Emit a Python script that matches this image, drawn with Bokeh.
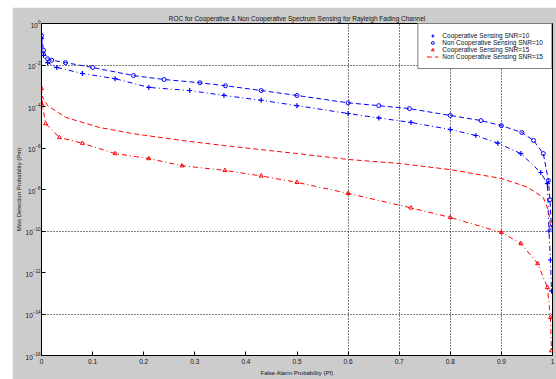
from bokeh.plotting import figure
from bokeh.models import FixedTicker, Range1d, Legend, LegendItem
from bokeh.embed import file_html
from bokeh.resources import INLINE

TITLE = "ROC for Cooperative & Non Cooperative Spectrum Sensing for Rayleigh Fading Channel"
XLABEL = "False Alarm Probability (Pf)"
YLABEL = "Miss Detection Probability (Pm)"

x_ticks = [0, 0.1, 0.2, 0.3, 0.4, 0.5, 0.6, 0.7, 0.8, 0.9, 1]
x_tick_labels = ["0", "0.1", "0.2", "0.3", "0.4", "0.5", "0.6", "0.7", "0.8", "0.9", "1"]
y_ticks = [1e0, 1e-2, 1e-4, 1e-6, 1e-8, 1e-10, 1e-12, 1e-14, 1e-16]
x_grid = [0.6, 0.7, 0.8, 0.9]
y_grid = [1e-2, 1e-10, 1e-14]

# Cooperative Sensing SNR=10 (blue, lower)
pf_c10 = [0, 0.004, 0.012, 0.03, 0.08, 0.144, 0.21, 0.29, 0.357, 0.43, 0.5, 0.6, 0.66,
          0.723, 0.8, 0.85, 0.893, 0.938, 0.977, 0.99, 0.993, 0.996, 0.998]
pm_c10 = [1.9e-1, 2.9e-2, 1.3e-2, 7.6e-3, 3.9e-3, 2.2e-3, 8.3e-4, 5.9e-4, 3.4e-4, 2.0e-4,
          1.1e-4, 4.6e-5, 2.8e-5, 1.7e-5, 7.8e-6, 4.0e-6, 1.7e-6, 5.4e-7, 6.6e-8, 1.9e-8,
          1.0e-10, 4.0e-12, 1.3e-13]

# Non Cooperative Sensing SNR=10 (blue, upper)
pf_nc10 = [0, 0.004, 0.012, 0.02, 0.047, 0.1, 0.18, 0.24, 0.31, 0.36, 0.43, 0.5, 0.6, 0.66,
           0.72, 0.8, 0.86, 0.9, 0.94, 0.963, 0.982, 0.992, 0.995, 0.998]
pm_nc10 = [2.6e-1, 5.0e-2, 2.0e-2, 1.7e-2, 1.3e-2, 7.6e-3, 3.1e-3, 2.0e-3, 1.4e-3, 1.0e-3,
           5.9e-4, 3.4e-4, 1.5e-4, 1.1e-4, 7.9e-5, 3.7e-5, 2.1e-5, 1.2e-5, 5.6e-6, 2.3e-6,
           5.4e-7, 2.7e-8, 3.2e-9, 1.5e-10]

# Cooperative Sensing SNR=15 (red, lower, triangles)
pf_c15 = [0, 0.002, 0.008, 0.035, 0.08, 0.144, 0.21, 0.275, 0.359, 0.43, 0.5, 0.6, 0.723,
          0.8, 0.9, 0.938, 0.971, 0.99, 0.996, 0.998]
pm_c15 = [7.4e-4, 1.1e-4, 1.5e-5, 3.2e-6, 1.7e-6, 5.4e-7, 3.1e-7, 1.4e-7, 8.3e-8, 4.5e-8,
          2.2e-8, 6.5e-9, 1.3e-9, 4.5e-10, 8.5e-11, 2.5e-11, 2.7e-12, 1.9e-13, 6.8e-15, 1.7e-16]

# Non Cooperative Sensing SNR=15 (red, upper, dashed)
pf_nc15 = [0, 0.012, 0.047, 0.113, 0.177, 0.275, 0.359, 0.43, 0.5, 0.6, 0.7, 0.8, 0.9,
           0.951, 0.982, 0.992, 0.996]
pm_nc15 = [3.4e-4, 1.1e-4, 3.0e-5, 9.8e-6, 5.0e-6, 2.3e-6, 1.3e-6, 8.3e-7, 5.4e-7, 2.8e-7,
           1.8e-7, 9.1e-8, 3.4e-8, 1.3e-8, 4.1e-9, 9.8e-10, 1.9e-10]

labels = ["Cooperative Sensing SNR=10", "Non Cooperative Sensing SNR=10",
          "Cooperative Sensing SNR=15", "Non Cooperative Sensing SNR=15"]

FONT = "Liberation Sans"

p = figure(width=544, height=372, x_range=Range1d(0, 1), y_range=Range1d(1e-16, 1),
           y_axis_type="log", output_backend="svg", toolbar_location=None,
           title=TITLE, min_border_left=27, min_border_right=4, min_border_top=16,
           min_border_bottom=24, border_fill_color="#cccccc", background_fill_color="white")
p.margin = (7, 0, 0, 12)

p.title.text_font = FONT
p.title.text_font_size = "6.5px"
p.title.text_font_style = "normal"
p.title.align = "center"
p.title.standoff = 4
p.title.text_color = "#111111"

p.outline_line_color = "black"
p.outline_line_width = 1

for ax in (p.xaxis, p.yaxis):
    ax.axis_line_color = "black"
    ax.major_tick_in = 4
    ax.major_tick_out = 0
    ax.minor_tick_line_color = None
    ax.major_label_text_font = FONT
    ax.major_label_text_font_size = "6.5px"
    ax.major_label_text_color = "#111111"
    ax.axis_label_text_font = FONT
    ax.axis_label_text_font_size = "6px"
    ax.axis_label_text_font_style = "normal"
    ax.axis_label_text_color = "#111111"
    ax.major_label_standoff = 3
    ax.axis_label_standoff = 3

p.yaxis.major_label_standoff = 1
p.yaxis.axis_label_standoff = 1

p.xaxis.ticker = FixedTicker(ticks=x_ticks, minor_ticks=[])
p.xaxis.major_label_overrides = {t: l for t, l in zip(x_ticks, x_tick_labels)}
p.yaxis.ticker = FixedTicker(ticks=y_ticks, minor_ticks=[])
p.xaxis.axis_label = XLABEL
p.yaxis.axis_label = YLABEL

p.xgrid.ticker = FixedTicker(ticks=x_grid, minor_ticks=[])
p.ygrid.ticker = FixedTicker(ticks=y_grid, minor_ticks=[])
for g in (p.xgrid, p.ygrid):
    g.grid_line_color = "black"
    g.grid_line_dash = "1 2"
    g.grid_line_width = 1

BLUE = "#0000ff"
RED = "#ff0000"

l1 = p.line(pf_c10, pm_c10, line_color=BLUE, line_width=1, line_dash="5 3 1 3")
s1 = p.scatter(pf_c10, pm_c10, marker="cross", size=5, line_color=BLUE, line_width=1.2)
l2 = p.line(pf_nc10, pm_nc10, line_color=BLUE, line_width=1, line_dash="5 3")
s2 = p.scatter(pf_nc10, pm_nc10, marker="circle", size=4, line_color=BLUE, fill_color=None, line_width=1)
l3 = p.line(pf_c15, pm_c15, line_color=RED, line_width=1, line_dash="5 3 1 3")
s3 = p.scatter(pf_c15, pm_c15, marker="triangle", size=4, line_color=RED, fill_color=None, line_width=1)
l4 = p.line(pf_nc15, pm_nc15, line_color=RED, line_width=1, line_dash="5 3")

legend = Legend(items=[
    LegendItem(label=labels[0], renderers=[s1]),
    LegendItem(label=labels[1], renderers=[s2]),
    LegendItem(label=labels[2], renderers=[s3]),
    LegendItem(label=labels[3], renderers=[l4]),
], location="top_right")
legend.label_text_font = FONT
legend.label_text_font_size = "6.5px"
legend.label_text_color = "#111111"
legend.border_line_color = "black"
legend.border_line_width = 1
legend.background_fill_color = "white"
legend.background_fill_alpha = 1
legend.margin = 0
legend.padding = 8
legend.spacing = 0
legend.label_height = 7
legend.glyph_height = 7
legend.glyph_width = 12
legend.label_standoff = 4
p.add_layout(legend)

open("out.html", "w").write(file_html(p, INLINE))
